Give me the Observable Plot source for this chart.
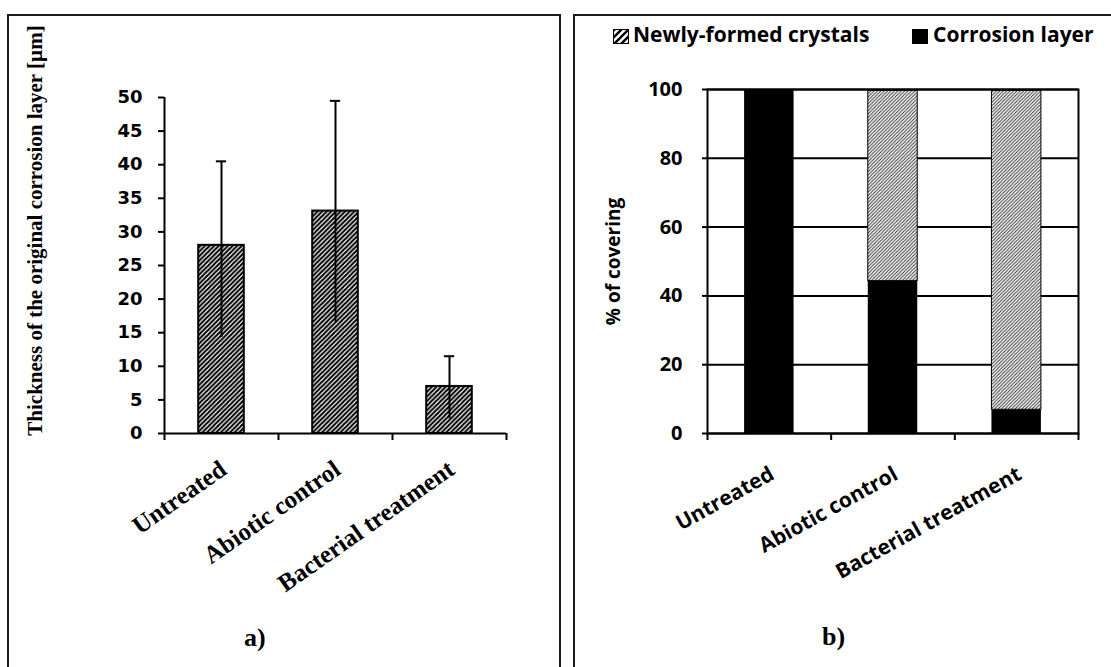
<!DOCTYPE html>
<html><head><meta charset="utf-8">
<script src="https://cdn.jsdelivr.net/npm/d3@7"></script>
<script src="https://cdn.jsdelivr.net/npm/@observablehq/plot@0.6"></script>
<style>
body{margin:0;background:#fff;width:1111px;height:667px;overflow:hidden;position:relative;}
.frame{position:absolute;border:2px solid #1a1a1a;box-sizing:border-box;}
#frameA{left:7px;top:14px;width:554px;height:700px;}
#frameB{left:573px;top:14px;width:560px;height:700px;}
.abs{position:absolute;}
.cap{font-family:"Liberation Serif",serif;font-weight:bold;font-size:26px;line-height:26px;white-space:nowrap;}
.leg{font-family:"Open Sans",sans-serif;font-weight:700;font-size:21px;line-height:20px;white-space:nowrap;color:#000;}
.sw{position:absolute;width:14px;height:13px;border:1px solid #000;}
</style></head><body>
<svg width="0" height="0" style="position:absolute">
 <defs>
  <pattern id="hatchA" patternUnits="userSpaceOnUse" width="4.6" height="4.6">
   <rect width="4.6" height="4.6" fill="#fff"/>
   <path d="M-1,1 l2,-2 M0,4.6 l4.6,-4.6 M3.6,5.6 l2,-2" stroke="#000" stroke-width="2.1"/>
  </pattern>
  <pattern id="hatchB" patternUnits="userSpaceOnUse" width="3.4" height="3.4">
   <rect width="3.4" height="3.4" fill="#fff"/>
   <path d="M-1,1 l2,-2 M0,3.4 l3.4,-3.4 M2.4,4.4 l2,-2" stroke="#222" stroke-width="0.9"/>
  </pattern>
  <pattern id="hatchL" patternUnits="userSpaceOnUse" width="7" height="7">
   <rect width="7" height="7" fill="#fff"/>
   <path d="M-1,1 l2,-2 M0,7 l7,-7 M6,8 l2,-2" stroke="#000" stroke-width="2.4"/>
  </pattern>
 </defs>
</svg>
<div class="frame" id="frameA"></div>
<div class="frame" id="frameB"></div>
<div id="chartA" class="abs" style="left:0;top:0"></div>
<div id="chartB" class="abs" style="left:574px;top:0"></div>
<div class="sw" style="left:613px;top:29px;"><svg width="14" height="13" style="display:block"><rect width="14" height="13" fill="url(#hatchL)"/></svg></div>
<div class="abs leg" style="left:633px;top:24px;">Newly-formed crystals</div>
<div class="sw" style="left:912px;top:29px;background:#000;"></div>
<div class="abs leg" style="left:933px;top:24px;">Corrosion layer</div>
<div class="abs cap" style="left:244px;top:625px;">a)</div>
<div class="abs cap" style="left:822px;top:624px;">b)</div>
<script>
const categories = ["Untreated", "Abiotic control", "Bacterial treatment"];
const thickness = [28.0, 33.1, 7.0];
const thicknessLow = [14.3, 16.6, 2.2];
const thicknessHigh = [40.5, 49.5, 11.5];
const thicknessTicks = [0, 5, 10, 15, 20, 25, 30, 35, 40, 45, 50];
const corrosionLayer = [100, 44.3, 6.9];
const newlyFormed = [0, 55.3, 92.7];
const coverTicks = [0, 20, 40, 60, 80, 100];
const titleA = "Thickness of the original corrosion layer [µm]";
const titleB = "% of covering";

const dataA = categories.map((c, i) => ({c, i, v: thickness[i], lo: thicknessLow[i], hi: thicknessHigh[i]}));
const bounds = d3.range(categories.length + 1);

const chartA = Plot.plot({
  width: 560, height: 667,
  marginLeft: 164, marginRight: 54, marginTop: 97, marginBottom: 234,
  style: {background: "transparent", color: "#000", overflow: "visible"},
  x: {type: "linear", domain: [0, categories.length], axis: null},
  y: {domain: [0, 50], axis: null},
  marks: [
    Plot.rectY(dataA, {x1: d => d.i + 0.3, x2: d => d.i + 0.7, y1: 0, y2: "v", fill: "url(#hatchA)", stroke: "#000", strokeWidth: 2}),
    Plot.ruleX(dataA, {x: d => d.i + 0.5, y1: "lo", y2: "hi", stroke: "#000", strokeWidth: 2}),
    Plot.ruleY(dataA, {x1: d => d.i + 0.455, x2: d => d.i + 0.545, y: "hi", stroke: "#000", strokeWidth: 2}),
    Plot.axisY({ticks: thicknessTicks, tickSize: 6, tickPadding: 16, strokeWidth: 2, label: null,
      fontFamily: "DejaVu Sans", fontWeight: "bold", fontSize: 18}),
    Plot.axisX({ticks: bounds, tickSize: 7, tickFormat: () => "", strokeWidth: 2, label: null}),
    Plot.ruleX([0], {stroke: "#000", strokeWidth: 2}),
    Plot.ruleY([0], {stroke: "#000", strokeWidth: 2}),
    Plot.text(dataA, {x: d => d.i + 0.5, y: 0, text: "c", rotate: -35, textAnchor: "end", dx: 2, dy: 33,
      fontFamily: "Liberation Serif", fontWeight: "bold", fontSize: 25, fill: "#000"}),
    Plot.text([titleA], {frameAnchor: "left", textAnchor: "middle", rotate: -90, dx: -129, dy: -35,
      fontFamily: "Liberation Serif", fontWeight: "bold", fontSize: 21, fill: "#000"})
  ]
});
document.getElementById("chartA").append(chartA);

const dataB = categories.flatMap((c, i) => [
  {c, i, series: "Corrosion layer", y1: 0, y2: corrosionLayer[i]},
  {c, i, series: "Newly-formed crystals", y1: corrosionLayer[i], y2: corrosionLayer[i] + newlyFormed[i]}
]);

const chartB = Plot.plot({
  width: 537, height: 667,
  marginLeft: 133, marginRight: 33, marginTop: 89, marginBottom: 234,
  style: {background: "transparent", color: "#000", overflow: "visible"},
  x: {type: "linear", domain: [0, categories.length], axis: null},
  y: {domain: [0, 100], axis: null},
  marks: [
    Plot.gridY({ticks: coverTicks, stroke: "#000", strokeOpacity: 1, strokeWidth: 2}),
    Plot.rectY(dataB.filter(d => d.series === "Corrosion layer"), {x1: d => d.i + 0.3, x2: d => d.i + 0.7, y1: "y1", y2: "y2", fill: "#000"}),
    Plot.rectY(dataB.filter(d => d.series === "Newly-formed crystals" && d.y2 > d.y1), {x1: d => d.i + 0.3, x2: d => d.i + 0.7, y1: "y1", y2: "y2", fill: "url(#hatchB)", stroke: "#000", strokeWidth: 1}),
    Plot.frame({stroke: "#000", strokeWidth: 2}),
    Plot.axisY({ticks: coverTicks, tickSize: 5, tickPadding: 20, strokeWidth: 2, label: null,
      fontFamily: "Open Sans", fontWeight: "bold", fontSize: 20}),
    Plot.axisX({ticks: bounds, tickSize: 7, tickFormat: () => "", strokeWidth: 2, label: null}),
    Plot.text(categories, {x: (d, i) => i + 0.5, y: 0, text: d => d, rotate: -29, textAnchor: "end", dx: 3, dy: 39,
      fontFamily: "Open Sans", fontWeight: "bold", fontSize: 21, fill: "#000"}),
    Plot.text([titleB], {frameAnchor: "left", textAnchor: "middle", rotate: -90, dx: -94,
      fontFamily: "Open Sans", fontWeight: "bold", fontSize: 19, fill: "#000"})
  ]
});
document.getElementById("chartB").append(chartB);
</script>
</body></html>
